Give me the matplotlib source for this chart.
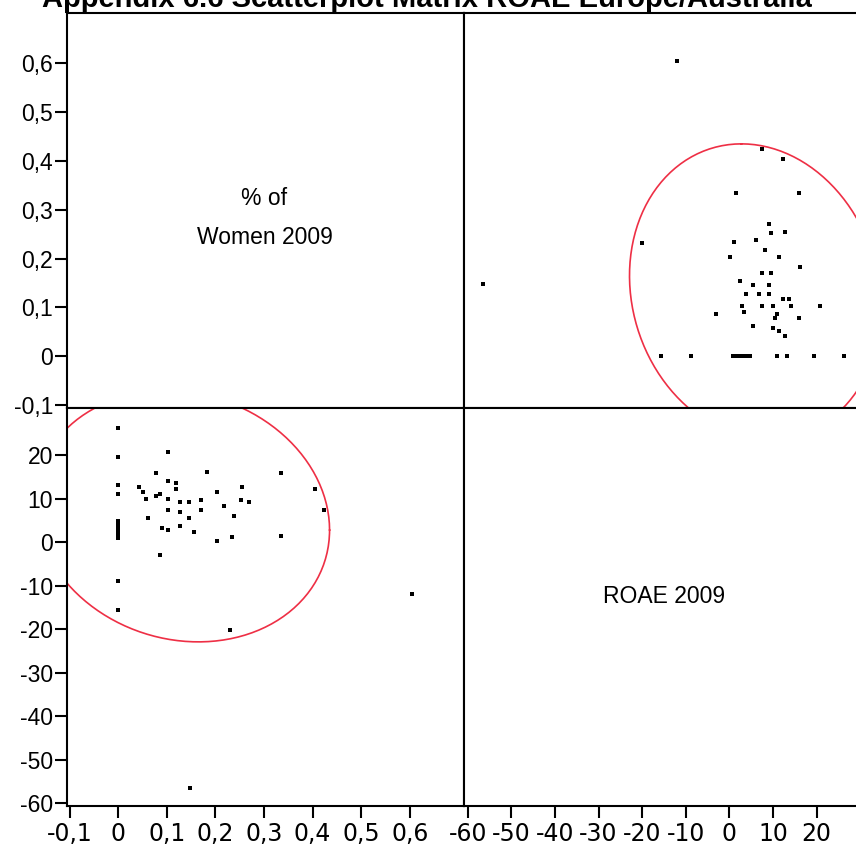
import numpy as np
import matplotlib

matplotlib.use("Agg")
import matplotlib.pyplot as plt  # noqa: E402

# share of women on the board (fraction) and ROAE (%) per company, 2009
WOMEN = [
    0.0, 0.0, 0.102, 0.182, 0.078, 0.335, 0.0, 0.102, 0.118, 0.118,
    0.042, 0.255, 0.404, 0.0, 0.051, 0.203, 0.086, 0.078, 0.057, 0.102,
    0.170, 0.252, 0.1265, 0.1465, 0.270, 0.2185, 0.4235, 0.102, 0.170, 0.1265,
    0.238, 0.062, 0.1465, 0.0, 0.0, 0.0, 0.0, 0.0, 0.0, 0.1265,
    0.090, 0.102, 0.155, 0.335, 0.235, 0.203, 0.086, 0.0, 0.0, 0.231,
    0.605, 0.147,
]
ROAE = [
    26.2, 19.5, 20.8, 16.2, 15.9, 15.9, 13.2, 14.1, 13.6, 12.3,
    12.7, 12.7, 12.3, 11.0, 11.4, 11.4, 11.0, 10.5, 10.0, 10.0,
    9.6, 9.6, 9.1, 9.1, 9.1, 8.2, 7.4, 7.4, 7.4, 6.9,
    6.0, 5.5, 5.5, 4.8, 4.0, 3.2, 2.5, 1.7, 0.9, 3.75,
    3.3, 2.8, 2.4, 1.5, 1.1, 0.2, -3.0, -8.9, -15.6, -20.1,
    -12.0, -56.4,
]

# density ellipse: centre and scaled covariance in (women, roae)
ELLIPSE_CENTER = [0.132, 5.9]
ELLIPSE_COV = [[0.0918, -0.95], [-0.95, 830.0]]

WOMEN_TICKS = [-0.1, 0.0, 0.1, 0.2, 0.3, 0.4, 0.5, 0.6]
ROAE_TICKS_X = [-60, -50, -40, -30, -20, -10, 0, 10, 20]
ROAE_TICKS_Y = [20, 10, 0, -10, -20, -30, -40, -50, -60]

TITLE = "Appendix 6.6 Scatterplot Matrix ROAE Europe/Australia"

W, H = 856, 850
LW = 1.5
RED = "#ee2f45"

fig = plt.figure(figsize=(W / 100, H / 100), dpi=100)


def px_axes(x0, y0, x1, y1):
    return fig.add_axes([x0 / W, 1 - y1 / H, (x1 - x0) / W, (y1 - y0) / H])


def comma(v):
    s = f"{v:g}"
    return "0" if s in ("0", "-0") else s.replace(".", ",")


X_LEFT, X_MID, X_RIGHT = 67, 464, 856
Y_TOP, Y_MID, Y_BOT = 13, 408, 806

women_xlim = (-0.1055, 0.7117)
roae_xlim = (-60.87, 29.04)
women_ylim = (-0.106, 0.703)
roae_ylim = (-60.6, 30.8)

ax_tl = px_axes(X_LEFT, Y_TOP, X_MID, Y_MID)
ax_tr = px_axes(X_MID, Y_TOP, X_RIGHT, Y_MID)
ax_bl = px_axes(X_LEFT, Y_MID, X_MID, Y_BOT)
ax_br = px_axes(X_MID, Y_MID, X_RIGHT, Y_BOT)

for ax in (ax_tl, ax_tr, ax_bl, ax_br):
    for sp in ax.spines.values():
        sp.set_linewidth(LW)
    ax.set_xticks([])
    ax.set_yticks([])
for ax in (ax_tr, ax_br):
    ax.spines["right"].set_visible(False)

ax_tl.set_xlim(women_xlim)
ax_tl.set_ylim(women_ylim)
ax_tr.set_xlim(roae_xlim)
ax_tr.set_ylim(women_ylim)
ax_bl.set_xlim(women_xlim)
ax_bl.set_ylim(roae_ylim)
ax_br.set_xlim(roae_xlim)
ax_br.set_ylim(roae_ylim)

# 95% density ellipse
t = np.linspace(0, 2 * np.pi, 240)
L = np.linalg.cholesky(np.array(ELLIPSE_COV))
ell = np.array(ELLIPSE_CENTER)[:, None] + L @ np.vstack([np.cos(t), np.sin(t)])

ax_tr.plot(ell[1], ell[0], color=RED, lw=1.2)
ax_bl.plot(ell[0], ell[1], color=RED, lw=1.2)

ax_tr.scatter(ROAE, WOMEN, marker="s", s=12, color="black", linewidths=0, zorder=3)
ax_bl.scatter(WOMEN, ROAE, marker="s", s=12, color="black", linewidths=0, zorder=3)

label_font = dict(family="Liberation Sans", size=16.5)
narrow_font = dict(family="Liberation Sans Narrow", size=17)

ax_tl.set_yticks(WOMEN_TICKS)
ax_tl.set_yticklabels([comma(v) for v in WOMEN_TICKS], **label_font)
ax_bl.set_yticks(ROAE_TICKS_Y)
ax_bl.set_yticklabels([comma(v) for v in ROAE_TICKS_Y], **label_font)
ax_bl.set_xticks(WOMEN_TICKS)
ax_bl.set_xticklabels([comma(v) for v in WOMEN_TICKS], **narrow_font)
ax_br.set_xticks(ROAE_TICKS_X)
ax_br.set_xticklabels([comma(v) for v in ROAE_TICKS_X], **narrow_font)

for ax in (ax_tl, ax_bl):
    ax.tick_params(axis="y", direction="out", length=8.6, width=LW, pad=1.5)
for ax in (ax_bl, ax_br):
    ax.tick_params(axis="x", direction="out", length=8.6, width=LW, pad=3)

ax_tl.text(0.301, 0.283, "% of\nWomen 2009", ha="center", va="center",
           linespacing=1.9, **label_font)
ax_br.text(-14.9, -12.6, "ROAE 2009", ha="center", va="center", **label_font)

fig.text(0.499, 1 - 7 / H, TITLE, ha="center", va="baseline",
         family="Liberation Sans", weight="bold", size=21)

fig.savefig("out.png", dpi=100)
